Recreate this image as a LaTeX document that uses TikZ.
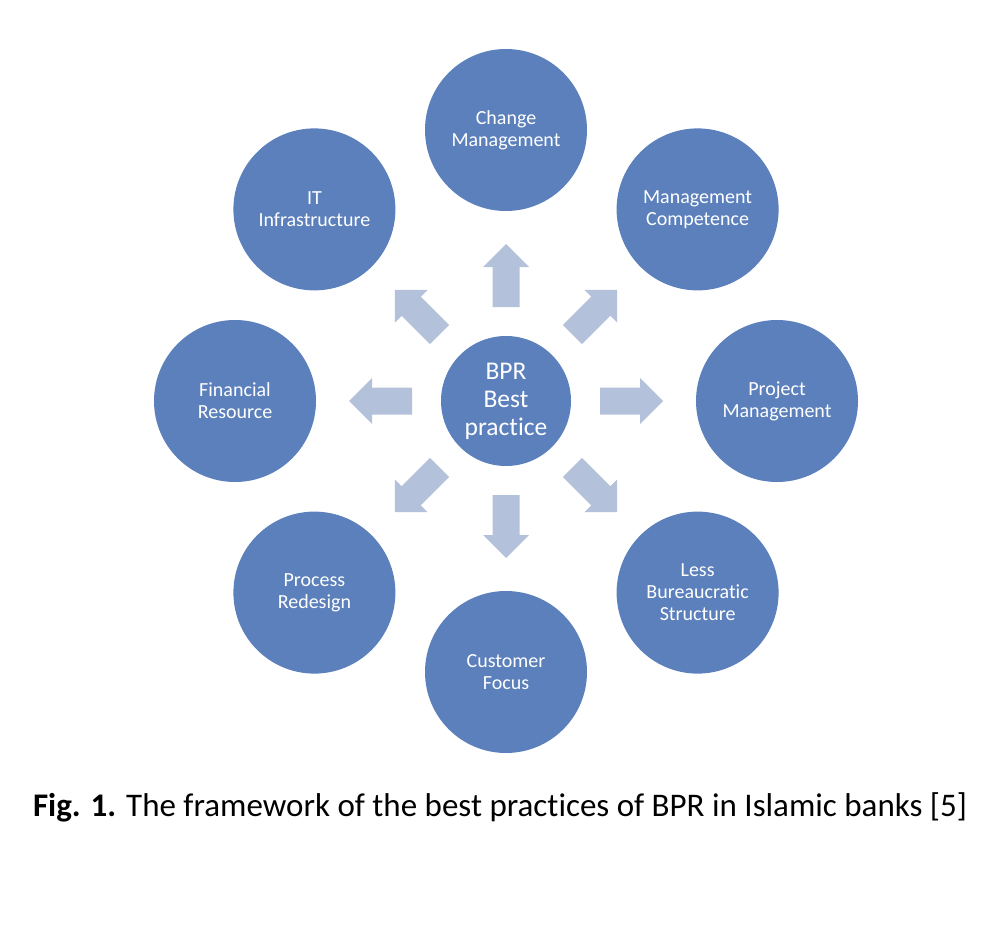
\documentclass[tikz,border=0pt]{standalone}
\usepackage{fontspec}
\setmainfont[Ligatures=NoCommon]{Carlito}
\definecolor{circblue}{HTML}{5B80BC}
\definecolor{arrowblue}{HTML}{B4C1DB}
\begin{document}
\begin{tikzpicture}[x=1pt,y=-1pt,
  outer/.style={circle,fill=circblue,minimum size=162pt,inner sep=0pt,text=white,align=center,font=\fontsize{20}{22}\selectfont},
  hub/.style={circle,fill=circblue,minimum size=130pt,inner sep=0pt,text=white,align=center,font=\fontsize{25.5}{28}\selectfont}]
\useasboundingbox (0,0) rectangle (996,928);
\node[hub] (c) at (506,401) {BPR\\Best\\practice};
\node[outer] (n1) at (506,130) {Change\\Management};
\node[outer] (n2) at (697.6,209.4) {Management\\Competence};
\node[outer] (n3) at (777,401) {Project\\Management};
\node[outer] (n4) at (697.6,592.6) {Less\\Bureaucratic\\Structure};
\node[outer] (n5) at (506,672) {Customer\\Focus};
\node[outer] (n6) at (314.4,592.6) {Process\\Redesign};
\node[outer] (n7) at (235,401) {Financial\\Resource};
\node[outer] (n8) at (314.4,209.4) {IT\\Infrastructure};
\foreach \a in {0,45,...,315}{
  \begin{scope}[shift={(c.center)},rotate=\a]
    \fill[arrowblue] (94,-13.5) -- (134,-13.5) -- (134,-23) -- (157,0) -- (134,23) -- (134,13.5) -- (94,13.5) -- cycle;
  \end{scope}
}
\node[font=\fontsize{33}{36}\selectfont,anchor=base,inner sep=0pt] (cap) at (500,816) {\textbf{Fig. 1.} The framework of the best practices of BPR in Islamic banks [5]};
\end{tikzpicture}
\end{document}
